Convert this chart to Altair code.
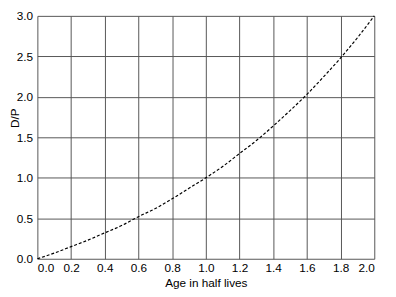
import altair as alt
import pandas as pd

age = [0.0, 0.1, 0.2, 0.3, 0.4, 0.5, 0.6, 0.7, 0.8, 0.9, 1.0,
       1.1, 1.2, 1.3, 1.4, 1.5, 1.6, 1.7, 1.8, 1.9, 2.0]
dp = [0.0, 0.07, 0.15, 0.23, 0.32, 0.41, 0.52, 0.62, 0.74, 0.87, 1.0,
      1.14, 1.30, 1.46, 1.64, 1.83, 2.03, 2.25, 2.48, 2.73, 3.0]
x_ticks = [0.0, 0.2, 0.4, 0.6, 0.8, 1.0, 1.2, 1.4, 1.6, 1.8, 2.0]
y_ticks = [0.0, 0.5, 1.0, 1.5, 2.0, 2.5, 3.0]

df = pd.DataFrame({"age": age, "dp": dp})

chart = alt.Chart(df).mark_line(
    color="black", strokeDash=[3, 2], strokeWidth=1.2, interpolate="monotone"
).encode(
    x=alt.X("age:Q", scale=alt.Scale(domain=[0, 2], nice=False),
            axis=alt.Axis(values=x_ticks, format=".1f", title="Age in half lives",
                          ticks=False, domain=False, grid=True,
                          labelPadding=4, titlePadding=4)),
    y=alt.Y("dp:Q", scale=alt.Scale(domain=[0, 3], nice=False),
            axis=alt.Axis(values=y_ticks, format=".1f", title="D/P",
                          ticks=False, domain=False, grid=True,
                          labelPadding=5, titleX=-23, titleY=104,
                          titleBaseline="middle")),
).properties(
    width=344, height=248,
    autosize=alt.AutoSizeParams(type="none"),
    padding={"left": 30, "top": 5, "right": 14, "bottom": 36},
).configure_axis(
    gridColor="#555555", gridOpacity=1, gridWidth=1,
    labelFont="Liberation Sans", labelFontSize=12, labelColor="black",
    titleFont="Liberation Sans", titleFontSize=12, titleFontWeight="normal",
    titleColor="black",
).configure_view(stroke=None)

chart.save("out.html", embed_options={"renderer": "svg", "actions": False})
